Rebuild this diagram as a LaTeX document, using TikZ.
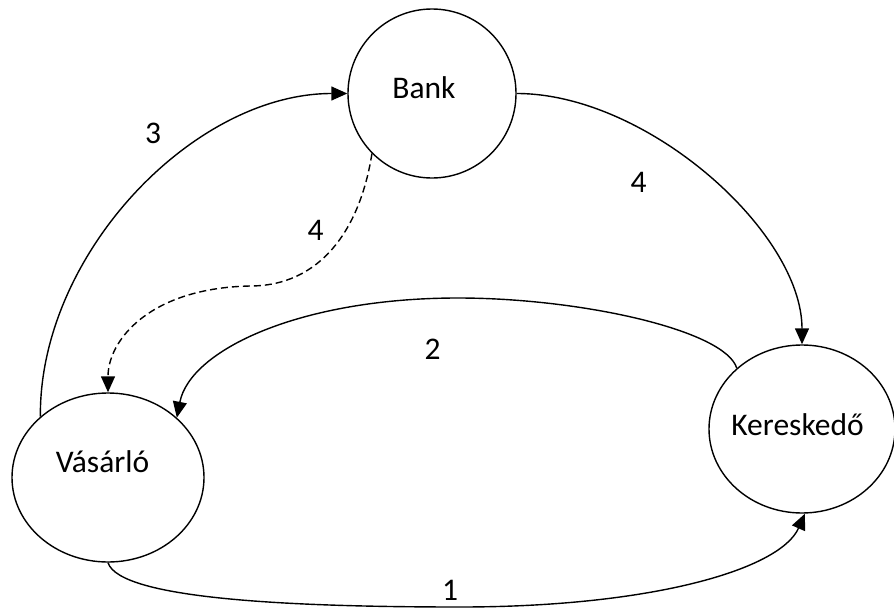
\documentclass[tikz,border=0pt]{standalone}
\usepackage{fontspec}
\setmainfont{Carlito}
\usetikzlibrary{shapes.geometric,arrows.meta}
\begin{document}
\begin{tikzpicture}[x=1pt,y=-1pt,
  actor/.style={draw,ellipse,line width=1.4pt,inner sep=0pt},
  txt/.style={anchor=base,inner sep=0pt,font=\fontsize{31.5}{37}\selectfont},
  flow/.style={line width=1.4pt,-{Triangle[length=16pt,width=14pt]}},
  dashflow/.style={flow,dash pattern=on 7pt off 4pt}
]
\useasboundingbox (0,0) rectangle (894,610);
\node[actor,minimum width=168pt,minimum height=169pt] (bank) at (432,93.5) {};
\node[actor,minimum width=192pt,minimum height=169pt] (vas) at (108,477.5) {};
\node[actor,minimum width=186pt,minimum height=168pt] (ker) at (802,429) {};
\node[txt] (tbank) at (424,98) {Bank};
\node[txt] (tvas) at (102.5,472) {Vásárló};
\node[txt] (tker) at (797.5,435) {Kereskedő};
% 3
\draw[flow] (vas.138.8) .. controls (39,255) and (193,93.5) .. (bank.180);
\node[txt] (l3) at (153,143) {3};
% 4 dashed
\draw[dashflow] (bank.225.7) .. controls (360,230) and (320,286) .. (250,286)
   .. controls (150,288) and (108,340) .. (vas.90);
\node[txt] (l4a) at (315.5,240) {4};
% 4 solid
\draw[flow] (bank.0) .. controls (647,93.5) and (802,232) .. (ker.90);
\node[txt] (l4b) at (638.5,192) {4};
% 2
\draw[flow] (ker.137.3) .. controls (725,330) and (580,298) .. (458,298)
   .. controls (300,298) and (190,350) .. (vas.41.2);
\node[txt] (l2) at (432.5,359) {2};
% 1
\draw[flow] (vas.270) .. controls (120,600) and (300,607) .. (460,607)
   .. controls (650,607) and (780,570) .. (ker.272);
\node[txt] (l1) at (450,600) {1};
\end{tikzpicture}
\end{document}
